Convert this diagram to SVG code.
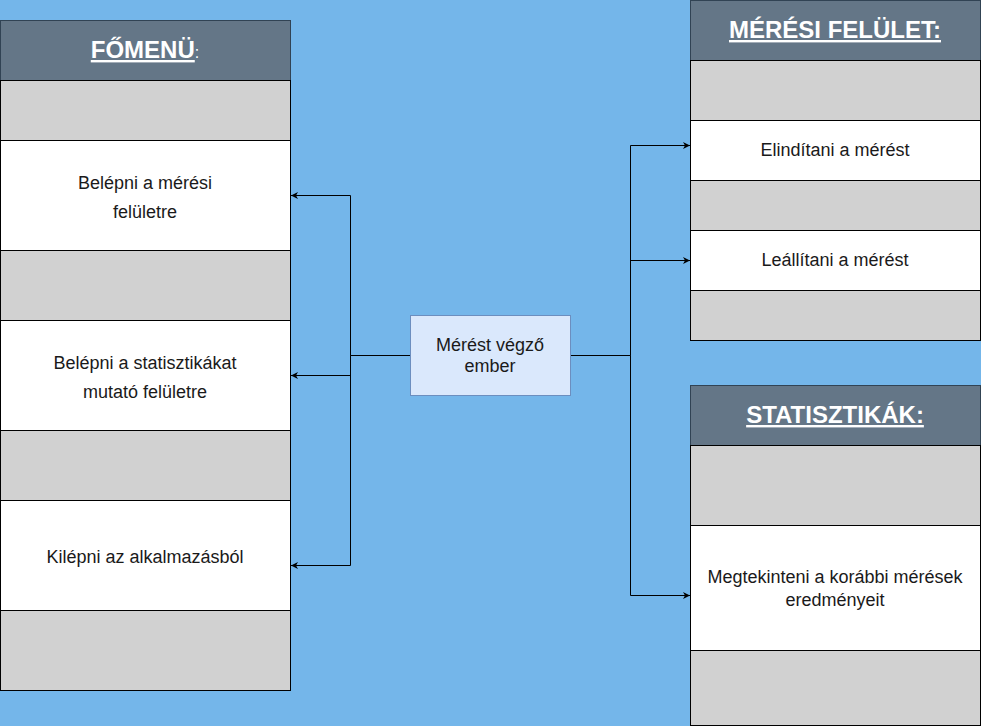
<svg xmlns="http://www.w3.org/2000/svg" width="981" height="726" viewBox="0 0 981 726">
<defs>
<marker id="arr" markerWidth="8" markerHeight="8" refX="7" refY="4" orient="auto" markerUnits="userSpaceOnUse"><path d="M0,0.5 L7,4 L0,7.5 L2,4 Z" fill="#000"/></marker>
<style>
.hdr{fill:#647687;stroke:#314354;stroke-width:1}
.g{fill:#d1d1d1;stroke:#000;stroke-width:1}
.w{fill:#ffffff;stroke:#000;stroke-width:1}
.ht{font-family:"Liberation Sans",Arial,sans-serif;font-size:24px;font-weight:bold;fill:#ffffff;text-anchor:middle;text-decoration:underline}
.t{font-family:"Liberation Sans",Arial,sans-serif;font-size:18px;fill:#1a1a1a;text-anchor:middle}
.c{fill:none;stroke:#000;stroke-width:1}
</style>
</defs>
<rect width="981" height="726" fill="#74b6ea"/>
<g id="fomenu">
<rect class="hdr" x="0.5" y="20.5" width="290" height="60"/>
<text x="145" y="58" style="font-family:'Liberation Sans',Arial,sans-serif;fill:#ffffff;text-anchor:middle"><tspan style="font-size:24px;font-weight:bold;text-decoration:underline">FŐMENÜ</tspan><tspan style="font-size:16px">:</tspan></text>
<rect class="g" x="0.5" y="80.5" width="290" height="60"/>
<rect class="w" x="0.5" y="140.5" width="290" height="110"/>
<text class="t" x="145" y="189">Belépni a mérési</text>
<text class="t" x="145" y="218">felületre</text>
<rect class="g" x="0.5" y="250.5" width="290" height="70"/>
<rect class="w" x="0.5" y="320.5" width="290" height="110"/>
<text class="t" x="145" y="369">Belépni a statisztikákat</text>
<text class="t" x="145" y="398">mutató felületre</text>
<rect class="g" x="0.5" y="430.5" width="290" height="70"/>
<rect class="w" x="0.5" y="500.5" width="290" height="110"/>
<text class="t" x="145" y="563">Kilépni az alkalmazásból</text>
<rect class="g" x="0.5" y="610.5" width="290" height="80"/>
</g>
<g id="meresi">
<rect class="hdr" x="690.5" y="0.5" width="290" height="60"/>
<text class="ht" x="835" y="38">MÉRÉSI FELÜLET:</text>
<rect class="g" x="690.5" y="60.5" width="290" height="60"/>
<rect class="w" x="690.5" y="120.5" width="290" height="60"/>
<text class="t" x="835" y="156">Elindítani a mérést</text>
<rect class="g" x="690.5" y="180.5" width="290" height="50"/>
<rect class="w" x="690.5" y="230.5" width="290" height="60"/>
<text class="t" x="835" y="266">Leállítani a mérést</text>
<rect class="g" x="690.5" y="290.5" width="290" height="50"/>
</g>
<g id="statisztikak">
<rect class="hdr" x="690.5" y="385.5" width="290" height="60"/>
<text class="ht" x="835" y="423">STATISZTIKÁK:</text>
<rect class="g" x="690.5" y="445.5" width="290" height="80"/>
<rect class="w" x="690.5" y="525.5" width="290" height="125"/>
<text class="t" x="835" y="583">Megtekinteni a korábbi mérések</text>
<text class="t" x="835" y="606">eredményeit</text>
<rect class="g" x="690.5" y="650.5" width="290" height="75"/>
</g>
<g id="ember">
<rect x="410.5" y="315.5" width="160" height="80" fill="#dae8fc" stroke="#6c8ebf"/>
<text class="t" x="490" y="351">Mérést végző</text>
<text class="t" x="490" y="372">ember</text>
</g>
<g id="connectors">
<path class="c" d="M410,355.5 H350.5 V195.5 H291" marker-end="url(#arr)"/>
<path class="c" d="M350.5,355.5 V375.5 H291" marker-end="url(#arr)"/>
<path class="c" d="M350.5,355.5 V565.5 H291" marker-end="url(#arr)"/>
<path class="c" d="M571,355.5 H630.5 V145.5 H690" marker-end="url(#arr)"/>
<path class="c" d="M630.5,355.5 V260.5 H690" marker-end="url(#arr)"/>
<path class="c" d="M630.5,355.5 V595.5 H690" marker-end="url(#arr)"/>
</g>
</svg>
